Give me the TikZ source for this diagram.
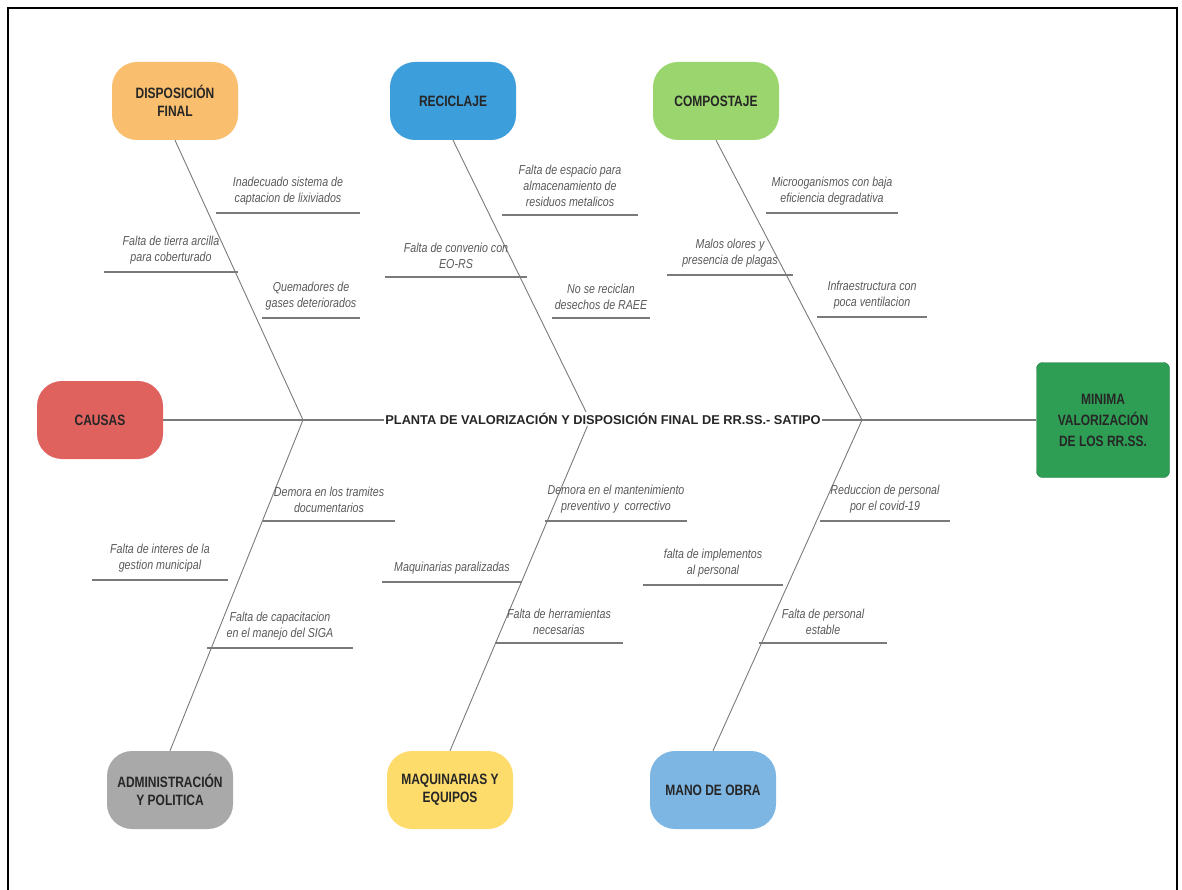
\documentclass[tikz,border=0pt]{standalone}
\usepackage{fontspec}
\setmainfont{Liberation Sans}
\newfontfamily\narrowfont[FakeStretch=0.8]{Liberation Sans}
\newfontfamily\causafont[FakeStretch=0.82]{Liberation Sans}
\usetikzlibrary{shapes}
\definecolor{dispcol}{HTML}{F9BF6E}
\definecolor{reccol}{HTML}{3C9EDB}
\definecolor{compcol}{HTML}{9BD56E}
\definecolor{causcol}{HTML}{E0625F}
\definecolor{admcol}{HTML}{A9A9A9}
\definecolor{maqcol}{HTML}{FDDC6C}
\definecolor{manocol}{HTML}{7DB6E3}
\definecolor{efcol}{HTML}{2F9E55}
\definecolor{linecol}{HTML}{7A7A7A}
\tikzstyle{cat} = [rectangle, rounded corners=25pt, minimum width=126pt,
minimum height=78pt, align=center, text=black!85,
font={\narrowfont\bfseries\fontsize{15}{18}\selectfont}]
\tikzstyle{efecto} = [rectangle, draw=efcol!80!black, fill=efcol, rounded corners=6pt,
minimum width=133pt, minimum height=115pt, align=center, text=black!85,
font={\narrowfont\bfseries\fontsize{15}{21}\selectfont}]
\tikzstyle{titulo} = [fill=white, inner sep=1pt, text=black!85,
font={\bfseries\fontsize{12.8}{15}\selectfont}]
\tikzstyle{causa} = [align=center, anchor=south, inner xsep=2pt, inner ysep=8pt,
text=black!65, font={\causafont\itshape\fontsize{13}{16}\selectfont}]
\tikzstyle{spine} = [draw, linecol, line width=1.4pt]
\tikzstyle{bone} = [draw, linecol, line width=0.9pt]
\tikzstyle{rib} = [draw, linecol, line width=1.1pt]

\begin{document}
\begin{tikzpicture}[x=1pt,y=-1pt]
    \useasboundingbox (0,0) rectangle (1182,890);
    % Frame
    \draw[line width=2pt] (8,890) -- (8,8) -- (1177,8) -- (1177,890);

    % Place nodes
    \node [cat, fill=dispcol] (disp) at (175,101) {DISPOSICIÓN\\FINAL};
    \node [cat, fill=reccol] (recic) at (453,101) {RECICLAJE};
    \node [cat, fill=compcol] (compost) at (716,101) {COMPOSTAJE};
    \node [cat, fill=causcol] (causas) at (100,420) {CAUSAS};
    \node [cat, fill=admcol] (admin) at (170,790) {ADMINISTRACIÓN\\Y POLITICA};
    \node [cat, fill=maqcol] (maq) at (450,790) {MAQUINARIAS Y\\EQUIPOS};
    \node [cat, fill=manocol] (mano) at (713,790) {MANO DE OBRA};
    \node [efecto] (efecto) at (1103,420) {MINIMA\\VALORIZACIÓN\\DE LOS RR.SS.};
    \coordinate (j1) at (303,420);
    \coordinate (j2) at (590,420);
    \coordinate (j3) at (862,420);

    % Draw edges
    \path [spine] (causas) -- (efecto);
    \path [bone] (disp.south) -- (j1) -- (admin.north);
    \path [bone] (recic.south) -- (j2) -- (maq.north);
    \path [bone] (compost.south) -- (j3) -- (mano.north);
    \node [titulo] (planta) at (603,419)
    {PLANTA DE VALORIZACIÓN Y DISPOSICIÓN FINAL DE RR.SS.- SATIPO};

    % Causes
    \node [causa, minimum width=143] (c11) at (288,213) {Inadecuado sistema de\\captacion de lixiviados};
    \node [causa, minimum width=133] (c12) at (171,272) {Falta de tierra arcilla\\para coberturado};
    \node [causa, minimum width=98] (c13) at (311,318) {Quemadores de\\gases deteriorados};
    \node [causa, minimum width=135] (c21) at (570,215) {Falta de espacio para\\almacenamiento de\\residuos metalicos};
    \node [causa, minimum width=142] (c22) at (456,277) {Falta de convenio con\\EO-RS};
    \node [causa, minimum width=98] (c23) at (601,318) {No se reciclan\\desechos de RAEE};
    \node [causa, minimum width=131] (c31) at (832,213) {Microoganismos con baja\\eficiencia degradativa};
    \node [causa, minimum width=126] (c32) at (730,275) {Malos olores y\\presencia de plagas};
    \node [causa, minimum width=109] (c33) at (872,317) {Infraestructura con\\poca ventilacion};
    \node [causa, minimum width=132] (c41) at (329,521) {Demora en los tramites\\documentarios};
    \node [causa, minimum width=135] (c42) at (160,580) {Falta de interes de la\\gestion municipal};
    \node [causa, minimum width=145] (c43) at (280,648) {Falta de capacitacion\\en el manejo del SIGA};
    \node [causa, minimum width=128] (c51) at (616,521) {Demora en el mantenimiento\\preventivo y \ correctivo};
    \node [causa, minimum width=139] (c52) at (452,582) {Maquinarias paralizadas};
    \node [causa, minimum width=128] (c53) at (559,643) {Falta de herramientas\\necesarias};
    \node [causa, minimum width=130] (c61) at (885,521) {Reduccion de personal\\por el covid-19};
    \node [causa, minimum width=140] (c62) at (713,585) {falta de implementos\\al personal};
    \node [causa, minimum width=127] (c63) at (823,643) {Falta de personal\\estable};
    \foreach \c in {c11,c12,c13,c21,c22,c23,c31,c32,c33,c41,c42,c43,c51,c52,c53,c61,c62,c63}
        \path [rib] (\c.south west) -- (\c.south east);
\end{tikzpicture}
\end{document}
